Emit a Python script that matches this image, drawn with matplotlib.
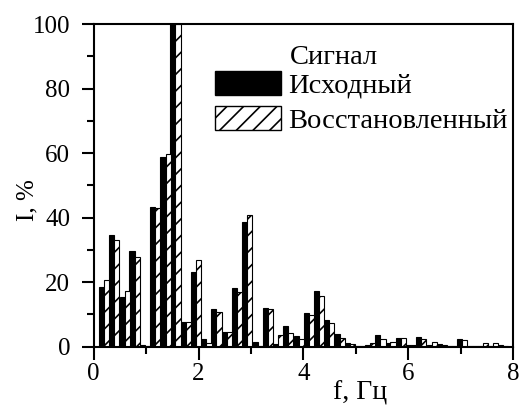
import matplotlib
matplotlib.use("Agg")
import matplotlib.pyplot as plt
from matplotlib.patches import Rectangle
from matplotlib.ticker import MultipleLocator

plt.rcParams['font.family'] = ['Liberation Serif', 'DejaVu Serif']
plt.rcParams['hatch.linewidth'] = 1.2

# frequency bins, Hz
freqs = [0.20, 0.39, 0.59, 0.78, 0.98, 1.17, 1.37, 1.56, 1.76, 1.95,
         2.15, 2.34, 2.54, 2.73, 2.93, 3.13, 3.32, 3.52, 3.71, 3.91,
         4.10, 4.30, 4.49, 4.69, 4.88, 5.08, 5.27, 5.47, 5.66, 5.86,
         6.05, 6.25, 6.45, 6.64, 6.84, 7.03, 7.23, 7.42, 7.62, 7.81]
# original signal, %
orig = [18.4, 34.6, 15.3, 29.8, 0.5, 43.3, 58.8, 100, 7.8, 23.0,
        2.3, 11.7, 4.5, 18.2, 38.8, 1.3, 12.0, 0.8, 6.5, 3.2,
        10.4, 17.4, 8.3, 3.8, 1.0, 0.3, 0.4, 3.6, 1.2, 2.6,
        0.5, 2.9, 0.5, 0.8, 0.3, 2.3, 0.2, 0.3, 0.3, 0.5]
# restored signal, %
restored = [20.7, 33.2, 17.3, 27.7, 0.3, 43.0, 59.8, 100, 7.8, 26.9,
            1.0, 10.6, 4.5, 16.8, 40.7, 0.3, 11.7, 3.7, 4.2, 2.4,
            9.7, 15.6, 7.3, 2.6, 0.8, 0.3, 1.2, 2.3, 1.5, 2.6,
            0.5, 2.3, 1.6, 0.5, 0.3, 2.1, 0.2, 1.0, 1.0, 0.3]

w = 0.0977

fig = plt.figure(figsize=(5.22, 4.05), dpi=100)
ax = fig.add_axes([0.1795, 0.144, 0.8035, 0.7966])

ax.bar([f - w / 2 for f in freqs], orig, width=w, color='black',
       edgecolor='black', linewidth=0.8)
ax.bar([f + w / 2 for f in freqs], restored, width=w, color='white',
       edgecolor='black', linewidth=0.8, hatch='//')

ax.set_xlim(0, 8)
ax.set_ylim(0, 100)
ax.xaxis.set_major_locator(MultipleLocator(2))
ax.xaxis.set_minor_locator(MultipleLocator(1))
ax.yaxis.set_major_locator(MultipleLocator(20))
ax.yaxis.set_minor_locator(MultipleLocator(10))
ax.tick_params(which='both', direction='out', width=1.5, labelsize=18)
ax.tick_params(which='major', length=9)
ax.tick_params(which='minor', length=5)
ax.tick_params(axis='x', pad=3)
ax.tick_params(axis='y', pad=8)
for s in ax.spines.values():
    s.set_linewidth(1.5)

ax.set_ylabel('I, %', fontsize=18)
ax.yaxis.set_label_coords(-0.159, 0.455)
ax.set_xlabel('f, Гц', fontsize=20)
ax.xaxis.set_label_coords(0.635, -0.145)
ax.xaxis.label.set_va('center')
ax.yaxis.label.set_va('center')

ax.text(0.468, 0.895, 'Сигнал', transform=ax.transAxes, fontsize=20.5,
        va='center', ha='left')

black = Rectangle((0, 0), 1, 1, facecolor='black', edgecolor='black')
hatched = Rectangle((0, 0), 1, 1, facecolor='white', edgecolor='black', hatch='//')
ax.legend([black, hatched], ['Исходный', 'Восстановленный'],
          loc='upper left', bbox_to_anchor=(0.29, 0.853), frameon=False,
          fontsize=20.5, handlelength=2.3, handleheight=0.88,
          handletextpad=0.25, labelspacing=0.26, borderpad=0, borderaxespad=0)

fig.savefig('out.png', dpi=100)
